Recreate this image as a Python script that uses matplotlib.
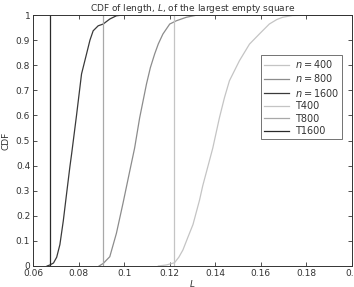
import matplotlib
matplotlib.use("Agg")
from matplotlib import pyplot as plt

L400 = [0.1150, 0.1185, 0.1221, 0.1240, 0.1258, 0.1280, 0.1302, 0.1331, 0.1345, 0.1370,
        0.1389, 0.1418, 0.1440, 0.1462, 0.1506, 0.1550, 0.1593, 0.1637, 0.1670, 0.1696,
        0.1739, 0.1800, 0.1850, 0.2000]
F400 = [0.000, 0.004, 0.013, 0.035, 0.064, 0.115, 0.165, 0.263, 0.320, 0.405,
        0.470, 0.590, 0.670, 0.738, 0.818, 0.884, 0.924, 0.964, 0.982, 0.991,
        0.998, 0.999, 1.000, 1.000]

L800 = [0.0890, 0.0908, 0.0937, 0.0966, 0.0995, 0.1025, 0.1046, 0.1068, 0.1098, 0.1115,
        0.1134, 0.1150, 0.1170, 0.1200, 0.1229, 0.1273, 0.1316, 0.1340, 0.2000]
F800 = [0.000, 0.010, 0.037, 0.130, 0.250, 0.380, 0.470, 0.590, 0.725, 0.790,
        0.845, 0.885, 0.924, 0.964, 0.977, 0.991, 0.999, 1.000, 1.000]

L1600 = [0.0662, 0.0674, 0.0690, 0.0704, 0.0718, 0.0733, 0.0747, 0.0762, 0.0770, 0.0791,
         0.0813, 0.0835, 0.0850, 0.0864, 0.0886, 0.0908, 0.0937, 0.0966, 0.0995, 0.2000]
F1600 = [0.000, 0.004, 0.012, 0.035, 0.085, 0.180, 0.285, 0.396, 0.450, 0.600,
         0.765, 0.845, 0.900, 0.937, 0.957, 0.964, 0.984, 0.997, 1.000, 1.000]

# threshold values (vertical lines)
T400 = 0.1219
T800 = 0.0908
T1600 = 0.0674

c400, c800, c1600 = "#c4c4c4", "#8c8c8c", "#3a3a3a"

plt.rcParams["font.family"] = ["DejaVu Sans"]
plt.rcParams["mathtext.fontset"] = "dejavusans"

fig = plt.figure(figsize=(3.54, 2.87), dpi=100)
ax = fig.add_axes([0.0932, 0.0732, 0.9012, 0.8745])

ax.plot(L400, F400, color=c400, lw=0.9, label="$n = 400$")
ax.plot(L800, F800, color=c800, lw=0.9, label="$n = 800$")
ax.plot(L1600, F1600, color=c1600, lw=0.9, label="$n = 1600$")
ax.plot([T400, T400], [0, 1], color=c400, lw=0.9, label="T400")
ax.plot([T800, T800], [0, 1], color="#a8a8a8", lw=0.9, label="T800")
ax.plot([T1600, T1600], [0, 1], color="#2a2a2a", lw=0.9, label="T1600")

ax.set_xlim(0.06, 0.2)
ax.set_ylim(0, 1)
ax.set_xticks([0.06, 0.08, 0.1, 0.12, 0.14, 0.16, 0.18, 0.2])
ax.set_xticklabels(["0.06", "0.08", "0.1", "0.12", "0.14", "0.16", "0.18", "0.2"])
ax.set_yticks([0, 0.1, 0.2, 0.3, 0.4, 0.5, 0.6, 0.7, 0.8, 0.9, 1])
ax.set_yticklabels(["0", "0.1", "0.2", "0.3", "0.4", "0.5", "0.6", "0.7", "0.8", "0.9", "1"])
ax.tick_params(direction="in", top=True, right=True, length=3, width=0.6,
               labelsize=6.5, colors="#333333", pad=2)
for s in ax.spines.values():
    s.set_linewidth(0.7)
    s.set_color("#333333")

ax.set_title("CDF of length, $L$, of the largest empty square", fontsize=6.5,
             color="#333333", pad=3)
ax.set_xlabel("$L$", fontsize=6.5, color="#333333", labelpad=0)
ax.set_ylabel("CDF", fontsize=6.5, color="#333333", labelpad=4)

leg = ax.legend(loc="upper right", bbox_to_anchor=(0.985, 0.86), fontsize=7,
                frameon=True, fancybox=False, edgecolor="#333333",
                handlelength=2.6, labelspacing=0.25, borderpad=0.3, handletextpad=0.6)
leg.get_frame().set_linewidth(0.6)
for t in leg.get_texts():
    t.set_color("#333333")

fig.savefig("out.png", dpi=100)
